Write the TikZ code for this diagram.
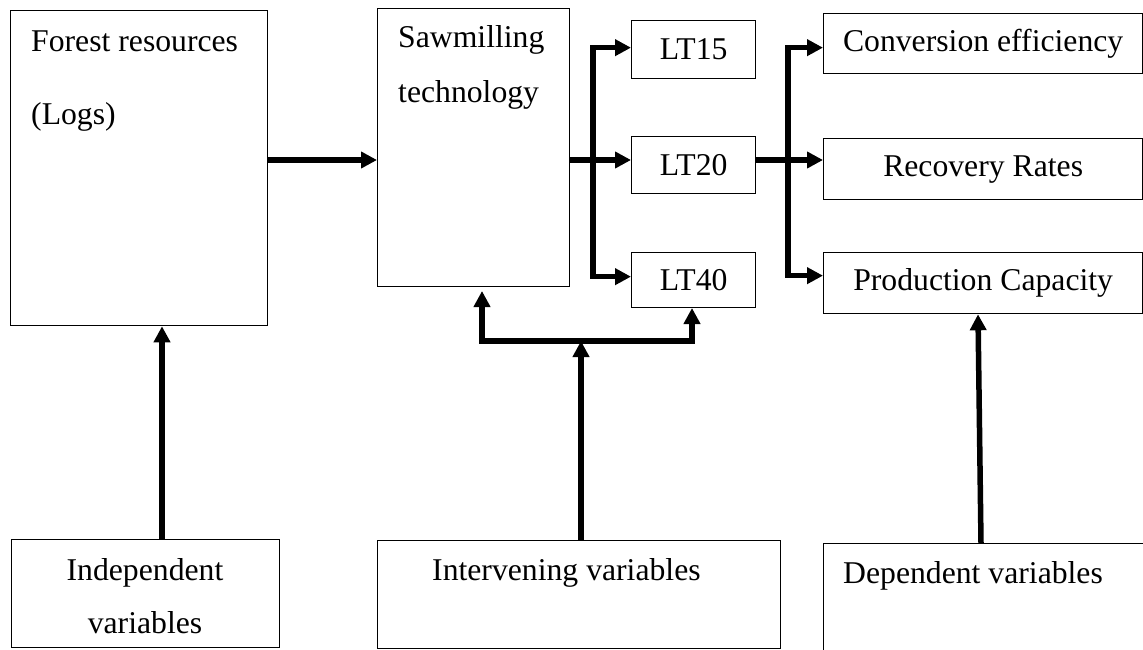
\documentclass[tikz,border=0pt]{standalone}
\usepackage{fontspec}
\setmainfont{Liberation Serif}
\usetikzlibrary{arrows.meta}
\begin{document}
\begin{tikzpicture}[x=1pt,y=-1pt,
  txt/.style={font=\fontsize{31.7}{38}\selectfont},
  box/.style={draw, line width=1.3pt, inner sep=0pt, anchor=north west, txt},
  lbl/.style={anchor=base west, inner sep=0pt, txt},
  clbl/.style={anchor=base, inner sep=0pt, txt},
  arr/.style={line width=5.5pt, -{Triangle[length=16pt,width=16pt]}}]
\useasboundingbox (0,0) rectangle (1143,650);
\fill[white] (0,0) rectangle (1143,650);

% boxes
\node[box, minimum width=257pt, minimum height=315pt] (forest) at (10,10) {};
\node[box, minimum width=192pt, minimum height=278pt] (saw) at (377,8) {};
\node[box, minimum width=124pt, minimum height=58pt] (lt15) at (631,20) {LT15};
\node[box, minimum width=124pt, minimum height=57pt] (lt20) at (631,136) {LT20};
\node[box, minimum width=124pt, minimum height=55pt] (lt40) at (631,252) {LT40};
\node[box, minimum width=319pt, minimum height=60pt] (conv) at (823,13) {Conversion efficiency};
\node[box, minimum width=319pt, minimum height=61pt] (rec) at (823,138) {Recovery Rates};
\node[box, minimum width=319pt, minimum height=61pt] (prod) at (823,252) {Production Capacity};
\node[box, minimum width=268pt, minimum height=108pt] (ind) at (11,539) {};
\node[box, minimum width=403pt, minimum height=108pt] (inter) at (377,540) {};
\node[box, minimum width=340pt, minimum height=130pt] (dep) at (823,543) {};

% box texts
\node[lbl] (forestA) at (31,52) {Forest resources};
\node[lbl] (forestB) at (31,125) {(Logs)};
\node[lbl] (sawA) at (398,48) {Sawmilling};
\node[lbl] (sawB) at (398,103) {technology};
\node[clbl] (indA) at (145,580) {Independent};
\node[clbl] (indB) at (145,633) {variables};
\node[lbl] (interA) at (432,580) {Intervening variables};
\node[lbl] (depA) at (843,583) {Dependent variables};

% helper coordinates
\coordinate (y160) at (0,160);
\coordinate (b1) at (593,160);
\coordinate (b2) at (788,160);
\coordinate (xind) at (162,0);
\coordinate (bar) at (581,341);
\coordinate (sawin) at (482,291);
\coordinate (lt40in) at (692,308);
\coordinate (dA) at (981,0);
\coordinate (dB) at (978,0);

% connectors
\draw[arr] (forest.east |- y160) -- (saw.west |- y160);
\draw[arr] (saw.east |- y160) -- (lt20.west |- y160);
\draw[arr] (b1) |- ([yshift=2pt]lt15.west);
\draw[arr] (b1) |- ([yshift=3.5pt]lt40.west);
\draw[arr] (lt20.east |- y160) -- (rec.west |- y160);
\draw[arr] (b2) |- ([yshift=-4pt]conv.west);
\draw[arr] (b2) |- ([yshift=7.5pt]prod.west);
\draw[arr] (ind.north -| xind) -- (forest.south -| xind);
\draw[arr] (inter.north -| bar) -- (bar);
\draw[arr] (bar) -| (sawin);
\draw[arr] (bar) -| (lt40in);
\draw[arr] (dep.north -| dA) -- (prod.south -| dB);
\end{tikzpicture}
\end{document}
